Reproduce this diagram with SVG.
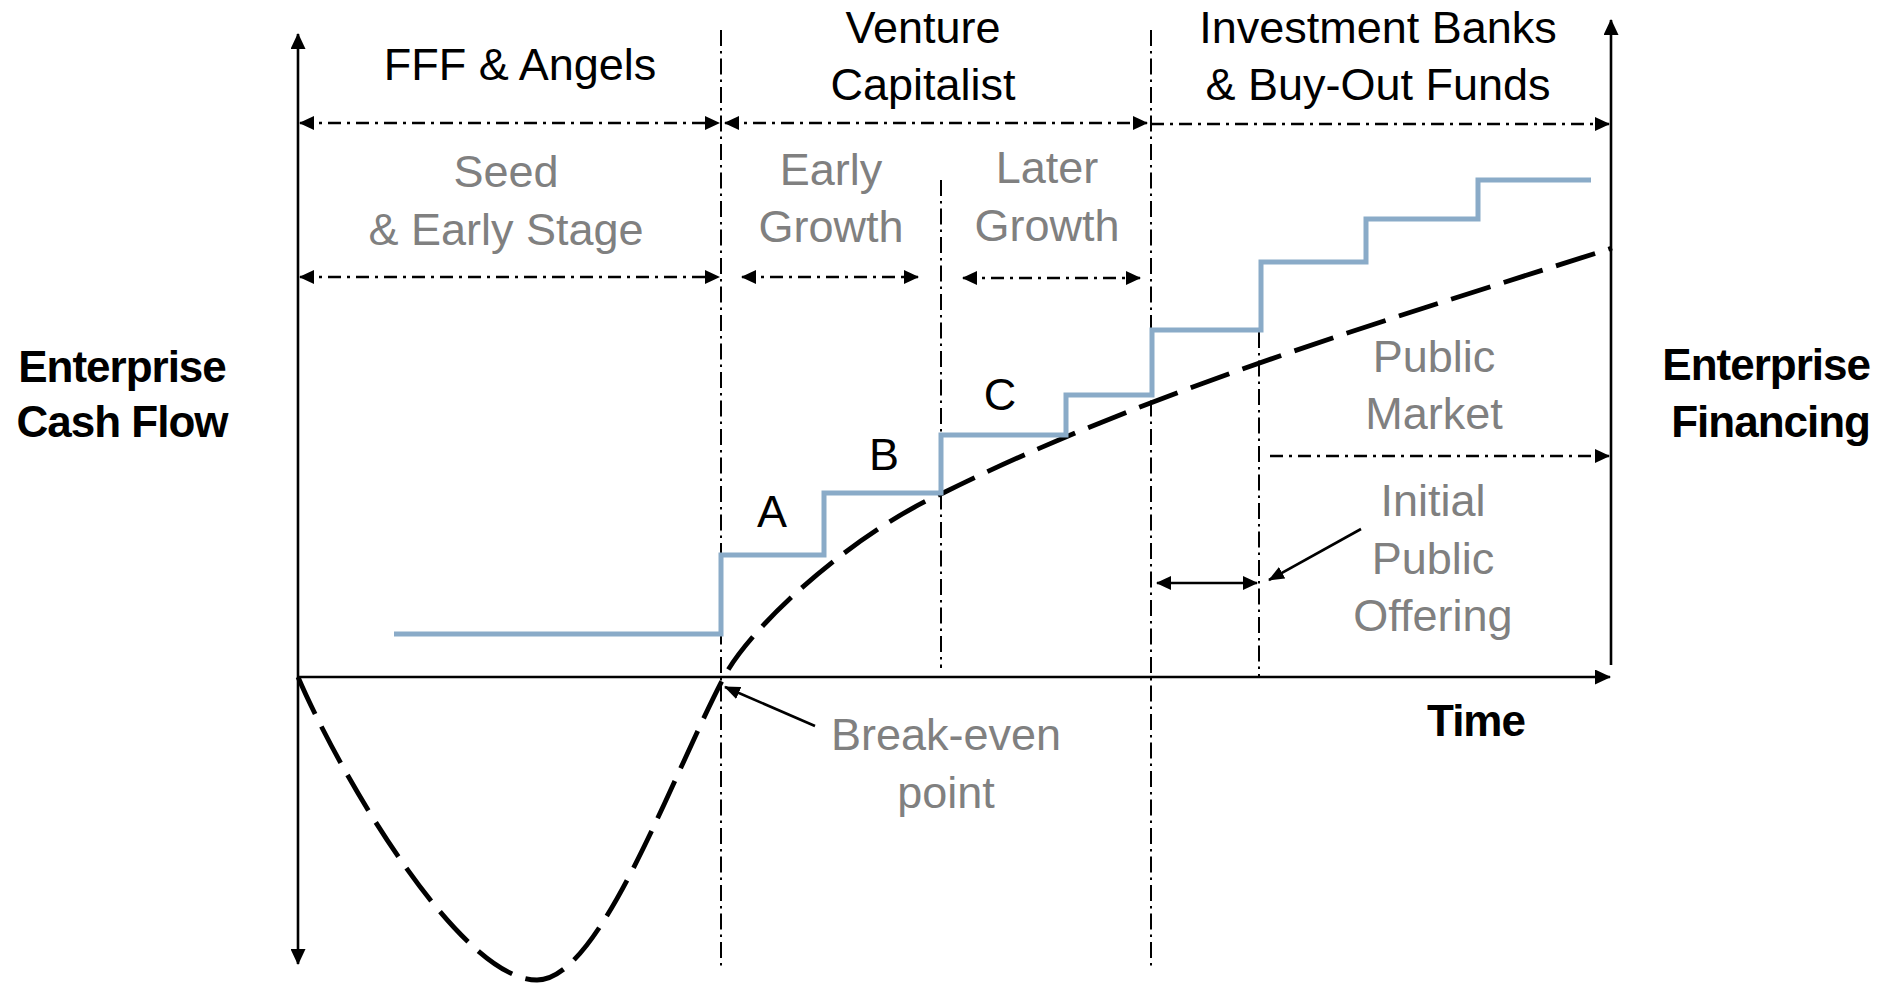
<svg xmlns="http://www.w3.org/2000/svg" width="1894" height="983" viewBox="0 0 1894 983">
<style>
  text { font-family: "Liberation Sans", Arial, Helvetica, sans-serif; font-size: 45px; text-anchor: middle; }
  .hdr { fill: #000; }
  .gray { fill: #808080; }
  .bold { font-weight: bold; font-size: 44px; letter-spacing: -1px; fill: #000; }
  .axis { stroke: #000; stroke-width: 2.6; fill: none; }
  .guide { stroke: #000; stroke-width: 2; fill: none; stroke-dasharray: 16 5 2.5 5; }
  .span { stroke: #000; stroke-width: 2.5; fill: none; stroke-dasharray: 13 6 3 6; }
  .solidarrow { stroke: #000; stroke-width: 2.6; fill: none; }
  .cash { stroke: #000; stroke-width: 4.8; fill: none; stroke-dasharray: 41 14; }
  .fin { stroke: #8aabc8; stroke-width: 5; fill: none; stroke-linejoin: miter; }
</style>
<defs>
  <marker id="ah" viewBox="0 0 15 14" refX="14" refY="7" markerWidth="15" markerHeight="14" markerUnits="userSpaceOnUse" orient="auto-start-reverse">
    <path d="M0,0 L15,7 L0,14 z" fill="#000"/>
  </marker>
  <marker id="axh" viewBox="0 0 16 15" refX="15" refY="7.5" markerWidth="16" markerHeight="15" markerUnits="userSpaceOnUse" orient="auto-start-reverse">
    <path d="M0,0 L16,7.5 L0,15 z" fill="#000"/>
  </marker>
  <marker id="ph" viewBox="0 0 16 13" refX="15" refY="6.5" markerWidth="16" markerHeight="13" markerUnits="userSpaceOnUse" orient="auto">
    <path d="M0,0 L16,6.5 L0,13 z" fill="#000"/>
  </marker>
</defs>
<rect x="0" y="0" width="1894" height="983" fill="#fff"/>

<g id="axes">
  <line class="axis" x1="298" y1="34" x2="298" y2="964" marker-start="url(#axh)" marker-end="url(#axh)"/>
  <line class="axis" x1="298" y1="677" x2="1610" y2="677" marker-end="url(#axh)"/>
  <line class="axis" x1="1611" y1="665" x2="1611" y2="20" marker-end="url(#axh)"/>
</g>

<g id="guides">
  <line class="guide" x1="721" y1="30" x2="721" y2="966"/>
  <line class="guide" x1="941" y1="180" x2="941" y2="668"/>
  <line class="guide" x1="1151" y1="30" x2="1151" y2="966"/>
  <line class="guide" x1="1259" y1="332" x2="1259" y2="677"/>
</g>

<g id="curves">
  <path class="cash" d="M298,677 C340,775 460,980 537,980 C600,980 670,780 724,677 C752,624 855,532 943,493 C1150,390 1400,316 1612,248"/>
  <path class="fin" d="M394,634 H721 V555 H824 V493 H941 V435 H1066 V395 H1152 V330 H1261 V262 H1366 V219 H1478 V180 H1591"/>
</g>

<g id="connectors">
  <line class="span" x1="300" y1="123" x2="719" y2="123" marker-start="url(#ah)" marker-end="url(#ah)"/>
  <line class="span" x1="725" y1="123" x2="1147" y2="123" marker-start="url(#ah)" marker-end="url(#ah)"/>
  <line class="span" x1="1151" y1="124" x2="1609" y2="124" marker-end="url(#ah)"/>
  <line class="span" x1="300" y1="277" x2="719" y2="277" marker-start="url(#ah)" marker-end="url(#ah)"/>
  <line class="span" x1="742" y1="277" x2="918" y2="277" marker-start="url(#ah)" marker-end="url(#ah)"/>
  <line class="span" x1="963" y1="278" x2="1140" y2="278" marker-start="url(#ah)" marker-end="url(#ah)"/>
  <line class="span" x1="1270" y1="456" x2="1609" y2="456" marker-end="url(#ah)"/>
  <line class="solidarrow" x1="1157" y1="583" x2="1257" y2="583" marker-start="url(#ah)" marker-end="url(#ah)"/>
  <line class="solidarrow" x1="1361" y1="529" x2="1269" y2="580" marker-end="url(#ph)"/>
  <line class="solidarrow" x1="815" y1="726" x2="725" y2="687" marker-end="url(#ph)"/>
</g>

<g id="label-fff"><text class="hdr" x="520" y="80">FFF &amp; Angels</text></g>
<g id="label-vc"><text class="hdr" x="923" y="43">Venture</text><text class="hdr" x="923" y="100">Capitalist</text></g>
<g id="label-ib"><text class="hdr" x="1378" y="43">Investment Banks</text><text class="hdr" x="1378" y="100">&amp; Buy-Out Funds</text></g>
<g id="label-seed"><text class="gray" x="506" y="187">Seed</text><text class="gray" x="506" y="245">&amp; Early Stage</text></g>
<g id="label-early"><text class="gray" x="831" y="185">Early</text><text class="gray" x="831" y="242">Growth</text></g>
<g id="label-later"><text class="gray" x="1047" y="183">Later</text><text class="gray" x="1047" y="241">Growth</text></g>
<g id="label-public"><text class="gray" x="1434" y="372">Public</text><text class="gray" x="1434" y="429">Market</text></g>
<g id="label-ipo"><text class="gray" x="1433" y="516">Initial</text><text class="gray" x="1433" y="574">Public</text><text class="gray" x="1433" y="631">Offering</text></g>
<g id="label-breakeven"><text class="gray" x="946" y="750">Break-even</text><text class="gray" x="946" y="808">point</text></g>
<g id="label-a"><text class="hdr" x="772" y="527">A</text></g>
<g id="label-b"><text class="hdr" x="884" y="470">B</text></g>
<g id="label-c"><text class="hdr" x="1000" y="410">C</text></g>
<g id="label-cashflow"><text class="bold" x="122" y="382">Enterprise</text><text class="bold" x="122" y="437">Cash Flow</text></g>
<g id="label-financing"><text class="bold" x="1870" y="380" style="text-anchor:end">Enterprise</text><text class="bold" x="1870" y="437" style="text-anchor:end">Financing</text></g>
<g id="label-time"><text class="bold" x="1476" y="736">Time</text></g>
</svg>
